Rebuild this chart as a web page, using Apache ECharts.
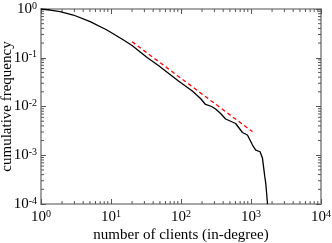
<!DOCTYPE html>
<html><head><meta charset="utf-8">
<script src="https://cdn.jsdelivr.net/npm/echarts@6/dist/echarts.min.js"></script>
<style>html,body{margin:0;padding:0;background:#fff}#c{width:332px;height:243px}</style>
</head><body><div id="c"></div>
<script>
// Cumulative in-degree distribution
var clientsX = [1, 1.35, 1.87, 2.9, 5.04, 8.75, 15.1, 20.0, 32.8, 48.1, 93.0, 145, 190, 224, 274, 312, 368, 434, 604, 754, 889, 1050, 1170, 1349, 1459, 1574, 1626, 1722];
var freqY   = [1.0, 0.953, 0.881, 0.753, 0.549, 0.371, 0.231, 0.178, 0.101, 0.0687, 0.0330, 0.0208, 0.0146, 0.0110, 0.0100, 0.00889, 0.00718, 0.00554, 0.00448, 0.00293, 0.00260, 0.00162, 0.00128, 0.00118, 0.000865, 0.000363, 0.000266, 0.0001];
// Power-law fit line
var fitX = [20.0, 1050];
var fitY = [0.213, 0.00304];
var xMin = 1, xMax = 10000, yMin = 1e-4, yMax = 1;
var xTitle = 'number of clients (in-degree)';
var yTitle = 'cumulative frequency';

var font = 'Liberation Serif';
var frame = '#8a8a8a';
function lbl(v){
  var e = Math.round(Math.log10(v));
  return '{b|10}{s|' + e + '}';
}
var rich = {
  b:{fontFamily:font,fontSize:15,color:'#000',lineHeight:16},
  s:{fontFamily:font,fontSize:10,color:'#000',lineHeight:16,verticalAlign:'top',padding:[0,0,7,0]}
};
function minorVals(lo, hi){
  var out=[];
  for (var p=lo; p<hi; p*=10) for (var k=2;k<=9;k++) out.push(p*k);
  return out;
}
var mx = minorVals(xMin, xMax), my = minorVals(yMin, yMax);
var pairs = [];
mx.forEach(function(v){ pairs.push([v, yMin, 0]); });
my.forEach(function(v){ pairs.push([xMin, v, 1]); });

var lineData = clientsX.map(function(x,i){return [x, freqY[i]];});
var fitData = fitX.map(function(x,i){return [x, fitY[i]];});

var chart = echarts.init(document.getElementById('c'), null, {renderer:'canvas'});
var axisCommon = {
  type:'log', logBase:10,
  axisLine:{show:true, lineStyle:{color:frame, width:1.6}},
  axisTick:{show:true, inside:true, length:5, lineStyle:{color:'#555', width:1}},
  splitLine:{show:false}, minorTick:{show:false}
};
chart.setOption({
  animation:false,
  grid:{left:41, right:11, top:9, bottom:39, containLabel:false, outerBoundsMode:'none'},
  xAxis:[
    Object.assign({}, axisCommon, {position:'bottom', min:xMin, max:xMax,
      name:xTitle, nameLocation:'middle', nameGap:24, nameMoveOverlap:false,
      nameTextStyle:{fontFamily:font, fontSize:15, color:'#000'},
      axisLabel:{formatter:lbl, rich:rich, margin:5}}),
    Object.assign({}, axisCommon, {position:'top', min:xMin, max:xMax, axisLabel:{show:false}})
  ],
  yAxis:[
    Object.assign({}, axisCommon, {position:'left', min:yMin, max:yMax,
      name:yTitle, nameLocation:'middle', nameGap:26, nameMoveOverlap:false,
      nameTextStyle:{fontFamily:font, fontSize:15, color:'#000'},
      axisLabel:{formatter:lbl, rich:rich, margin:4}}),
    Object.assign({}, axisCommon, {position:'right', min:yMin, max:yMax, axisLabel:{show:false}})
  ],
  series:[
    {type:'custom', xAxisIndex:0, yAxisIndex:0, clip:false, silent:true, z:1,
     data:pairs,
     renderItem:function(params, api){
       var v0=api.value(0), v1=api.value(1), dir=api.value(2);
       var st={stroke:'#555', lineWidth:1};
       if (dir===0){
         var b=api.coord([v0,yMin]), t=api.coord([v0,yMax]);
         return {type:'group', children:[
           {type:'line', shape:{x1:b[0],y1:b[1],x2:b[0],y2:b[1]-3}, style:st},
           {type:'line', shape:{x1:t[0],y1:t[1],x2:t[0],y2:t[1]+3}, style:st}]};
       } else {
         var l=api.coord([xMin,v1]), r=api.coord([xMax,v1]);
         return {type:'group', children:[
           {type:'line', shape:{x1:l[0],y1:l[1],x2:l[0]+3,y2:l[1]}, style:st},
           {type:'line', shape:{x1:r[0],y1:r[1],x2:r[0]-3,y2:r[1]}, style:st}]};
       }
     }},
    {type:'line', xAxisIndex:0, yAxisIndex:0, data:fitData, showSymbol:false, z:3,
     lineStyle:{color:'#ff0000', width:1.3, type:[4,3]}},
    {type:'line', xAxisIndex:0, yAxisIndex:0, data:lineData, showSymbol:false, z:4,
     lineStyle:{color:'#000', width:1.3}}
  ]
});
</script></body></html>
